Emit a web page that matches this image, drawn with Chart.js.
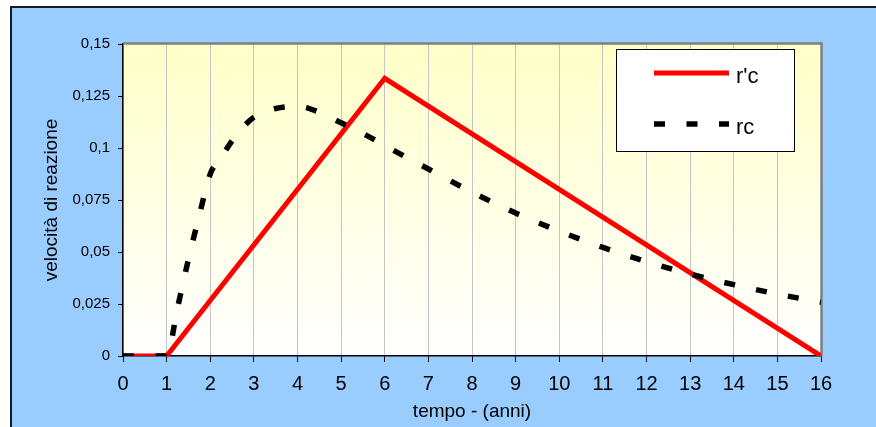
<!DOCTYPE html>
<html>
<head>
<meta charset="utf-8">
<script src="https://cdn.jsdelivr.net/npm/chart.js@4"></script>
<style>
html,body{margin:0;padding:0;background:#fff;}
canvas{display:block;}
</style>
</head>
<body>
<canvas id="c" width="876" height="427"></canvas>
<script>
// Data
const seriesNames = ["r'c", "rc"];
const rpcTimes  = [0, 1, 6, 16];
const rpcValues = [0, 0, 0.1335, 0];
const rcTimes  = [0, 1, 1.25, 1.5, 1.75, 2, 2.25, 2.5, 2.75, 3, 3.5, 4, 4.5, 5, 5.5, 6, 7, 8, 9, 10, 11, 12, 13, 14, 15, 16];
const rcValues = [0, 0, 0.0232, 0.0465, 0.0677, 0.0875, 0.0955, 0.1035, 0.1100, 0.1148, 0.1190, 0.1200, 0.1172, 0.1121, 0.1070, 0.1012, 0.0899, 0.0788, 0.0687, 0.0600, 0.0522, 0.0454, 0.0394, 0.0343, 0.0298, 0.0258];
const yTickLabels = ['0', '0,025', '0,05', '0,075', '0,1', '0,125', '0,15'];
const xTitle = 'tempo - (anni)';
const yTitle = 'velocità di reazione';

const FONT = "'Liberation Sans', Arial, sans-serif";
const RED = '#FF0000';
const BLACK = '#000000';
const DASH = [11, 21.5];

const framePlugin = {
  id: 'frame',
  beforeDraw(chart) {
    const ctx = chart.ctx;
    const a = chart.chartArea;
    ctx.save();
    ctx.fillStyle = '#ffffff';
    ctx.fillRect(0, 0, chart.width, chart.height);
    ctx.fillStyle = '#99CCFF';
    ctx.fillRect(11, 7, chart.width + 10, chart.height + 10);
    ctx.strokeStyle = '#1a1a1a';
    ctx.lineWidth = 2;
    ctx.strokeRect(11, 7, chart.width + 10, chart.height + 10);
    const g = ctx.createLinearGradient(0, a.top, 0, a.bottom);
    g.addColorStop(0, '#FFFFC8');
    g.addColorStop(1, '#FFFFFF');
    ctx.fillStyle = g;
    ctx.fillRect(a.left, a.top, a.right - a.left, a.bottom - a.top);
    ctx.restore();
  },
  beforeDatasetsDraw(chart) {
    const ctx = chart.ctx;
    const a = chart.chartArea;
    ctx.save();
    ctx.strokeStyle = '#808080';
    ctx.lineWidth = 2.5;
    ctx.beginPath();
    ctx.moveTo(a.left, a.top - 0.5);
    ctx.lineTo(a.right + 0.5, a.top - 0.5);
    ctx.lineTo(a.right + 0.5, a.bottom);
    ctx.stroke();
    ctx.restore();
  },
  afterDatasetsDraw(chart) {
    const ctx = chart.ctx;
    ctx.save();
    ctx.fillStyle = '#ffffff';
    ctx.fillRect(616, 49, 178, 102);
    ctx.strokeStyle = '#000';
    ctx.lineWidth = 1;
    ctx.strokeRect(616.5, 49.5, 178, 102);
    const ds = chart.data.datasets;
    const rows = [73, 124];
    ds.forEach((d, i) => {
      ctx.beginPath();
      ctx.strokeStyle = d.borderColor;
      ctx.lineWidth = d.borderWidth;
      ctx.lineCap = 'butt';
      ctx.setLineDash(d.borderDash || []);
      ctx.moveTo(654, rows[i]);
      ctx.lineTo(729, rows[i]);
      ctx.stroke();
      ctx.setLineDash([]);
      ctx.fillStyle = '#000';
      ctx.font = '22px ' + FONT;
      ctx.textBaseline = 'alphabetic';
      ctx.textAlign = 'left';
      ctx.fillText(d.label, 736, rows[i] + 10);
    });
    ctx.restore();
  }
};

new Chart(document.getElementById('c'), {
  type: 'line',
  data: {
    datasets: [
      {
        label: seriesNames[0],
        data: rpcTimes.map((t, i) => ({x: t, y: rpcValues[i]})),
        borderColor: RED,
        borderWidth: 5,
        pointRadius: 0,
        tension: 0,
        fill: false,
        order: 1
      },
      {
        label: seriesNames[1],
        data: rcTimes.map((t, i) => ({x: t, y: rcValues[i]})),
        borderColor: BLACK,
        borderWidth: 5.5,
        borderDash: DASH,
        borderCapStyle: 'butt',
        pointRadius: 0,
        cubicInterpolationMode: 'monotone',
        fill: false,
        order: 0
      }
    ]
  },
  options: {
    responsive: false,
    animation: false,
    devicePixelRatio: 1,
    layout: {padding: {left: 30, right: 55, top: 44, bottom: 0}},
    plugins: {legend: {display: false}, tooltip: {enabled: false}},
    scales: {
      x: {
        type: 'linear',
        min: 0, max: 16,
        ticks: {stepSize: 1, color: '#000', font: {family: FONT, size: 20}, padding: 10, maxRotation: 0, autoSkip: false},
        grid: {color: '#C4C4C4', lineWidth: 1, tickColor: '#000', tickLength: 6, drawTicks: true},
        border: {color: '#000', width: 1.5},
        title: {display: true, text: xTitle, color: '#000', font: {family: FONT, size: 19}, padding: {top: 0, bottom: 4}},
        afterFit(s) { s.height = 71; }
      },
      y: {
        min: 0, max: 0.15,
        ticks: {stepSize: 0.025, color: '#000', font: {family: FONT, size: 15}, padding: 8,
          callback: (v, i) => yTickLabels[i]},
        grid: {drawOnChartArea: false, tickColor: '#000', tickLength: 5, drawTicks: true},
        border: {color: '#000', width: 1.5},
        title: {display: true, text: yTitle, color: '#000', font: {family: FONT, size: 19}, padding: {top: 10, bottom: 0}},
        afterFit(s) { s.width = 93; }
      }
    }
  },
  plugins: [framePlugin]
});
</script>
</body>
</html>
